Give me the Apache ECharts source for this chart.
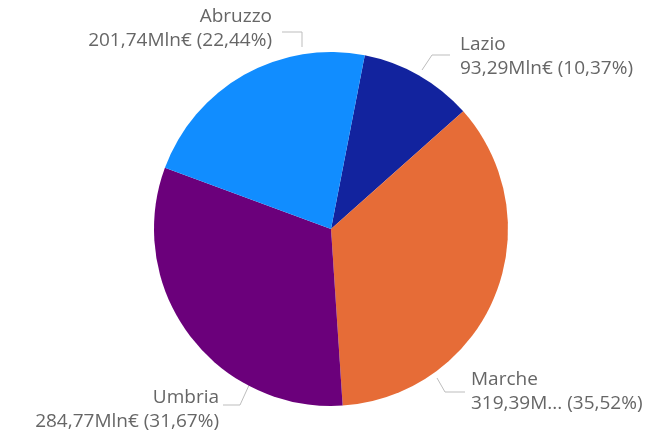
<!DOCTYPE html>
<html>
<head>
<meta charset="utf-8">
<script src="https://cdn.jsdelivr.net/npm/echarts@6/dist/echarts.min.js"></script>
<style>
  html, body { margin: 0; padding: 0; background: #fff; }
  #chart { width: 672px; height: 434px; }
</style>
</head>
<body>
<div id="chart"></div>
<script>
// regioni e valori (Mln€)
var regions = ['Lazio', 'Marche', 'Umbria', 'Abruzzo'];
var values = [93.29, 319.39, 284.77, 201.74];
var colors = ['#12239E', '#E66C37', '#6B007B', '#118DFF'];
// etichetta troncata come nel report
var truncated = [false, true, false, false];

// posizione etichette (px)
var labelSpots = [
  { line: [[422, 70], [432, 55], [450, 55]], x: 460, y: 57, align: 'left' },
  { line: [[437, 378], [445, 392], [465, 392]], x: 471, y: 392, align: 'left' },
  { line: [[250, 383], [240, 405], [223, 405]], x: 219, y: 410, align: 'right' },
  { line: [[302, 47], [302, 32], [282, 32]], x: 272, y: 29, align: 'right' }
];

var font = '"Segoe UI", "Open Sans", sans-serif';

function fmt(v) {
  return v.toFixed(2).replace('.', ',');
}

var chart = echarts.init(document.getElementById('chart'));
var data = regions.map(function (name, i) {
  return { name: name, value: values[i], itemStyle: { color: colors[i] } };
});

chart.setOption({
  animation: false,
  series: [{
    type: 'pie',
    center: [331, 229],
    radius: 177,
    startAngle: 79,
    clockwise: true,
    data: data,
    itemStyle: { borderWidth: 0 },
    label: {
      show: true,
      overflow: 'none',
      color: '#666666',
      fontFamily: font,
      fontSize: 19,
      lineHeight: 24,
      formatter: function (p) {
        var i = p.dataIndex;
        var v = truncated[i] ? fmt(p.value) + 'M...' : fmt(p.value) + 'Mln€';
        return p.name + '\n' + v + ' (' + fmt(p.percent) + '%)';
      }
    },
    labelLine: {
      show: true,
      lineStyle: { color: '#BDBDBD', width: 1 }
    },
    labelLayout: function (params) {
      var s = labelSpots[params.dataIndex];
      return {
        x: s.x,
        y: s.y,
        align: s.align,
        verticalAlign: 'middle',
        labelLinePoints: s.line
      };
    }
  }]
});
</script>
</body>
</html>
